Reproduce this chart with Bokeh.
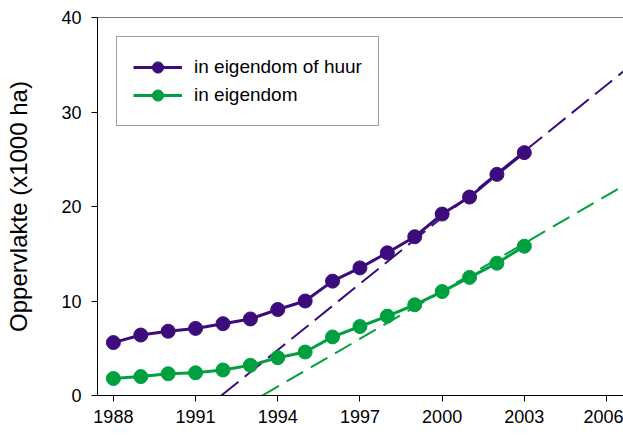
from bokeh.plotting import figure
from bokeh.models import FixedTicker, Span, Legend, LegendItem
from bokeh.embed import file_html
from bokeh.resources import INLINE

years = [1988, 1989, 1990, 1991, 1992, 1993, 1994, 1995, 1996, 1997, 1998,
         1999, 2000, 2001, 2002, 2003]
eigendom_of_huur = [5.6, 6.4, 6.8, 7.1, 7.6, 8.1, 9.1, 10.0, 12.1, 13.5, 15.1,
                    16.8, 19.2, 21.0, 23.4, 25.7]
eigendom = [1.8, 2.0, 2.3, 2.4, 2.7, 3.2, 4.0, 4.6, 6.2, 7.3, 8.4,
            9.6, 11.0, 12.5, 14.0, 15.8]

trend_huur_x = [1991.94, 2006.62]
trend_huur_y = [0.0, 34.3]
trend_eig_x = [1993.44, 2006.62]
trend_eig_y = [0.0, 22.2]

x_ticks = [1988, 1991, 1994, 1997, 2000, 2003, 2006]
y_ticks = [0, 10, 20, 30, 40]

PURPLE = "#3d0c7c"
GREEN = "#00a040"
FONT = "Liberation Sans"

p = figure(width=623, height=435, output_backend="svg", toolbar_location=None,
           x_range=(1987.42, 2006.62), y_range=(0, 40),
           min_border_left=97, min_border_right=0, min_border_top=17,
           min_border_bottom=40)
p.grid.visible = False
p.outline_line_color = None
p.background_fill_color = "white"

# trend lines
p.line(trend_huur_x, trend_huur_y, line_color=PURPLE, line_width=2, line_dash="22 8")
p.line(trend_eig_x, trend_eig_y, line_color=GREEN, line_width=2, line_dash="19 9")

l1 = p.line(years, eigendom_of_huur, line_color=PURPLE, line_width=3)
s1 = p.scatter(years, eigendom_of_huur, size=14, fill_color=PURPLE, line_color=PURPLE)
l2 = p.line(years, eigendom, line_color=GREEN, line_width=3)
s2 = p.scatter(years, eigendom, size=14, fill_color=GREEN, line_color=GREEN)

p.add_layout(Span(location=40, dimension="width", line_color="black", line_width=1))

for ax in (p.xaxis[0], p.yaxis[0]):
    ax.axis_line_color = "black"
    ax.major_tick_line_color = "black"
    ax.major_tick_out = 6
    ax.major_tick_in = 0
    ax.minor_tick_line_color = None
    ax.major_label_text_font = FONT
    ax.major_label_text_font_size = "18px"
    ax.major_label_text_color = "black"

p.xaxis.ticker = FixedTicker(ticks=x_ticks)
p.yaxis.ticker = FixedTicker(ticks=y_ticks)
p.xaxis.major_label_standoff = 8
p.yaxis.major_label_standoff = 10
p.yaxis.axis_label = "Oppervlakte (x1000 ha)"
p.yaxis.axis_label_text_font = FONT
p.yaxis.axis_label_text_font_size = "24px"
p.yaxis.axis_label_text_font_style = "normal"
p.yaxis.axis_label_text_color = "black"
p.yaxis.axis_label_standoff = 26

legend = Legend(items=[
    LegendItem(label="in eigendom of huur", renderers=[l1, s1]),
    LegendItem(label="in eigendom", renderers=[l2, s2]),
], location="top_left")
legend.margin = 19
legend.padding = 16
legend.spacing = 0
legend.glyph_width = 49
legend.glyph_height = 28
legend.label_height = 24
legend.label_standoff = 12
legend.label_text_font = FONT
legend.label_text_font_size = "19px"
legend.label_text_color = "black"
legend.border_line_color = "#444444"
legend.border_line_width = 1.5
legend.background_fill_alpha = 1
p.add_layout(legend)

open("out.html", "w").write(file_html(p, INLINE))
